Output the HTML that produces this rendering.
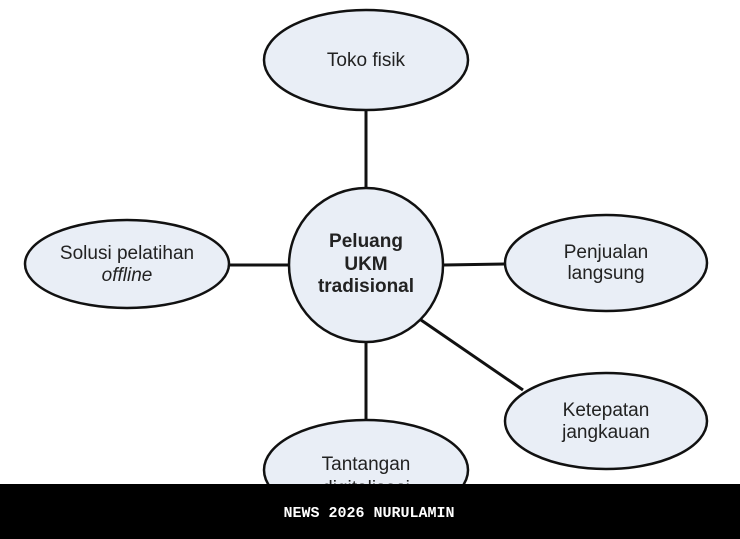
<!DOCTYPE html>
<html><head><meta charset="utf-8"><style>
body{margin:0;width:740px;height:539px;overflow:hidden;background:#fff}
svg{display:block}
text{font-family:"Liberation Sans","DejaVu Sans",sans-serif;fill:#222;font-size:19px;text-anchor:middle}
</style></head><body>
<svg width="740" height="539" viewBox="0 0 740 539">
<g stroke="#111" stroke-width="3" fill="none">
<line x1="366" y1="110" x2="366" y2="188"/>
<line x1="366" y1="342" x2="366" y2="422"/>
<line x1="230" y1="265" x2="288" y2="265"/>
<line x1="444" y1="265" x2="505" y2="264"/>
<line x1="421" y1="320" x2="523" y2="390"/>
</g>
<g stroke="#111" stroke-width="2.5" fill="#e9eef6">
<ellipse cx="366" cy="60" rx="102" ry="50"/>
<ellipse cx="127" cy="264" rx="102" ry="44"/>
<ellipse cx="606" cy="263" rx="101" ry="48"/>
<ellipse cx="606" cy="421" rx="101" ry="48"/>
<ellipse cx="366" cy="470" rx="102" ry="50"/>
<circle cx="366" cy="265" r="77"/>
</g>
<text x="366" y="66">Toko fisik</text>
<text x="127" y="259">Solusi pelatihan</text>
<text x="127" y="281" font-style="italic">offline</text>
<text x="606" y="258">Penjualan</text>
<text x="606" y="279">langsung</text>
<text x="606" y="416">Ketepatan</text>
<text x="606" y="438">jangkauan</text>
<text x="366" y="470">Tantangan</text>
<text x="366" y="494">digitalisasi</text>
<text x="366" y="247" font-weight="bold" font-size="19">Peluang</text>
<text x="366" y="270" font-weight="bold" font-size="19">UKM</text>
<text x="366" y="292" font-weight="bold" font-size="19">tradisional</text>
<rect x="0" y="484" width="740" height="55" fill="#000"/>
<text x="369" y="517" style="fill:#fff;font-family:'Liberation Mono','DejaVu Sans Mono',monospace;font-size:15px;font-weight:bold">NEWS 2026 NURULAMIN</text>
</svg>
</body></html>
